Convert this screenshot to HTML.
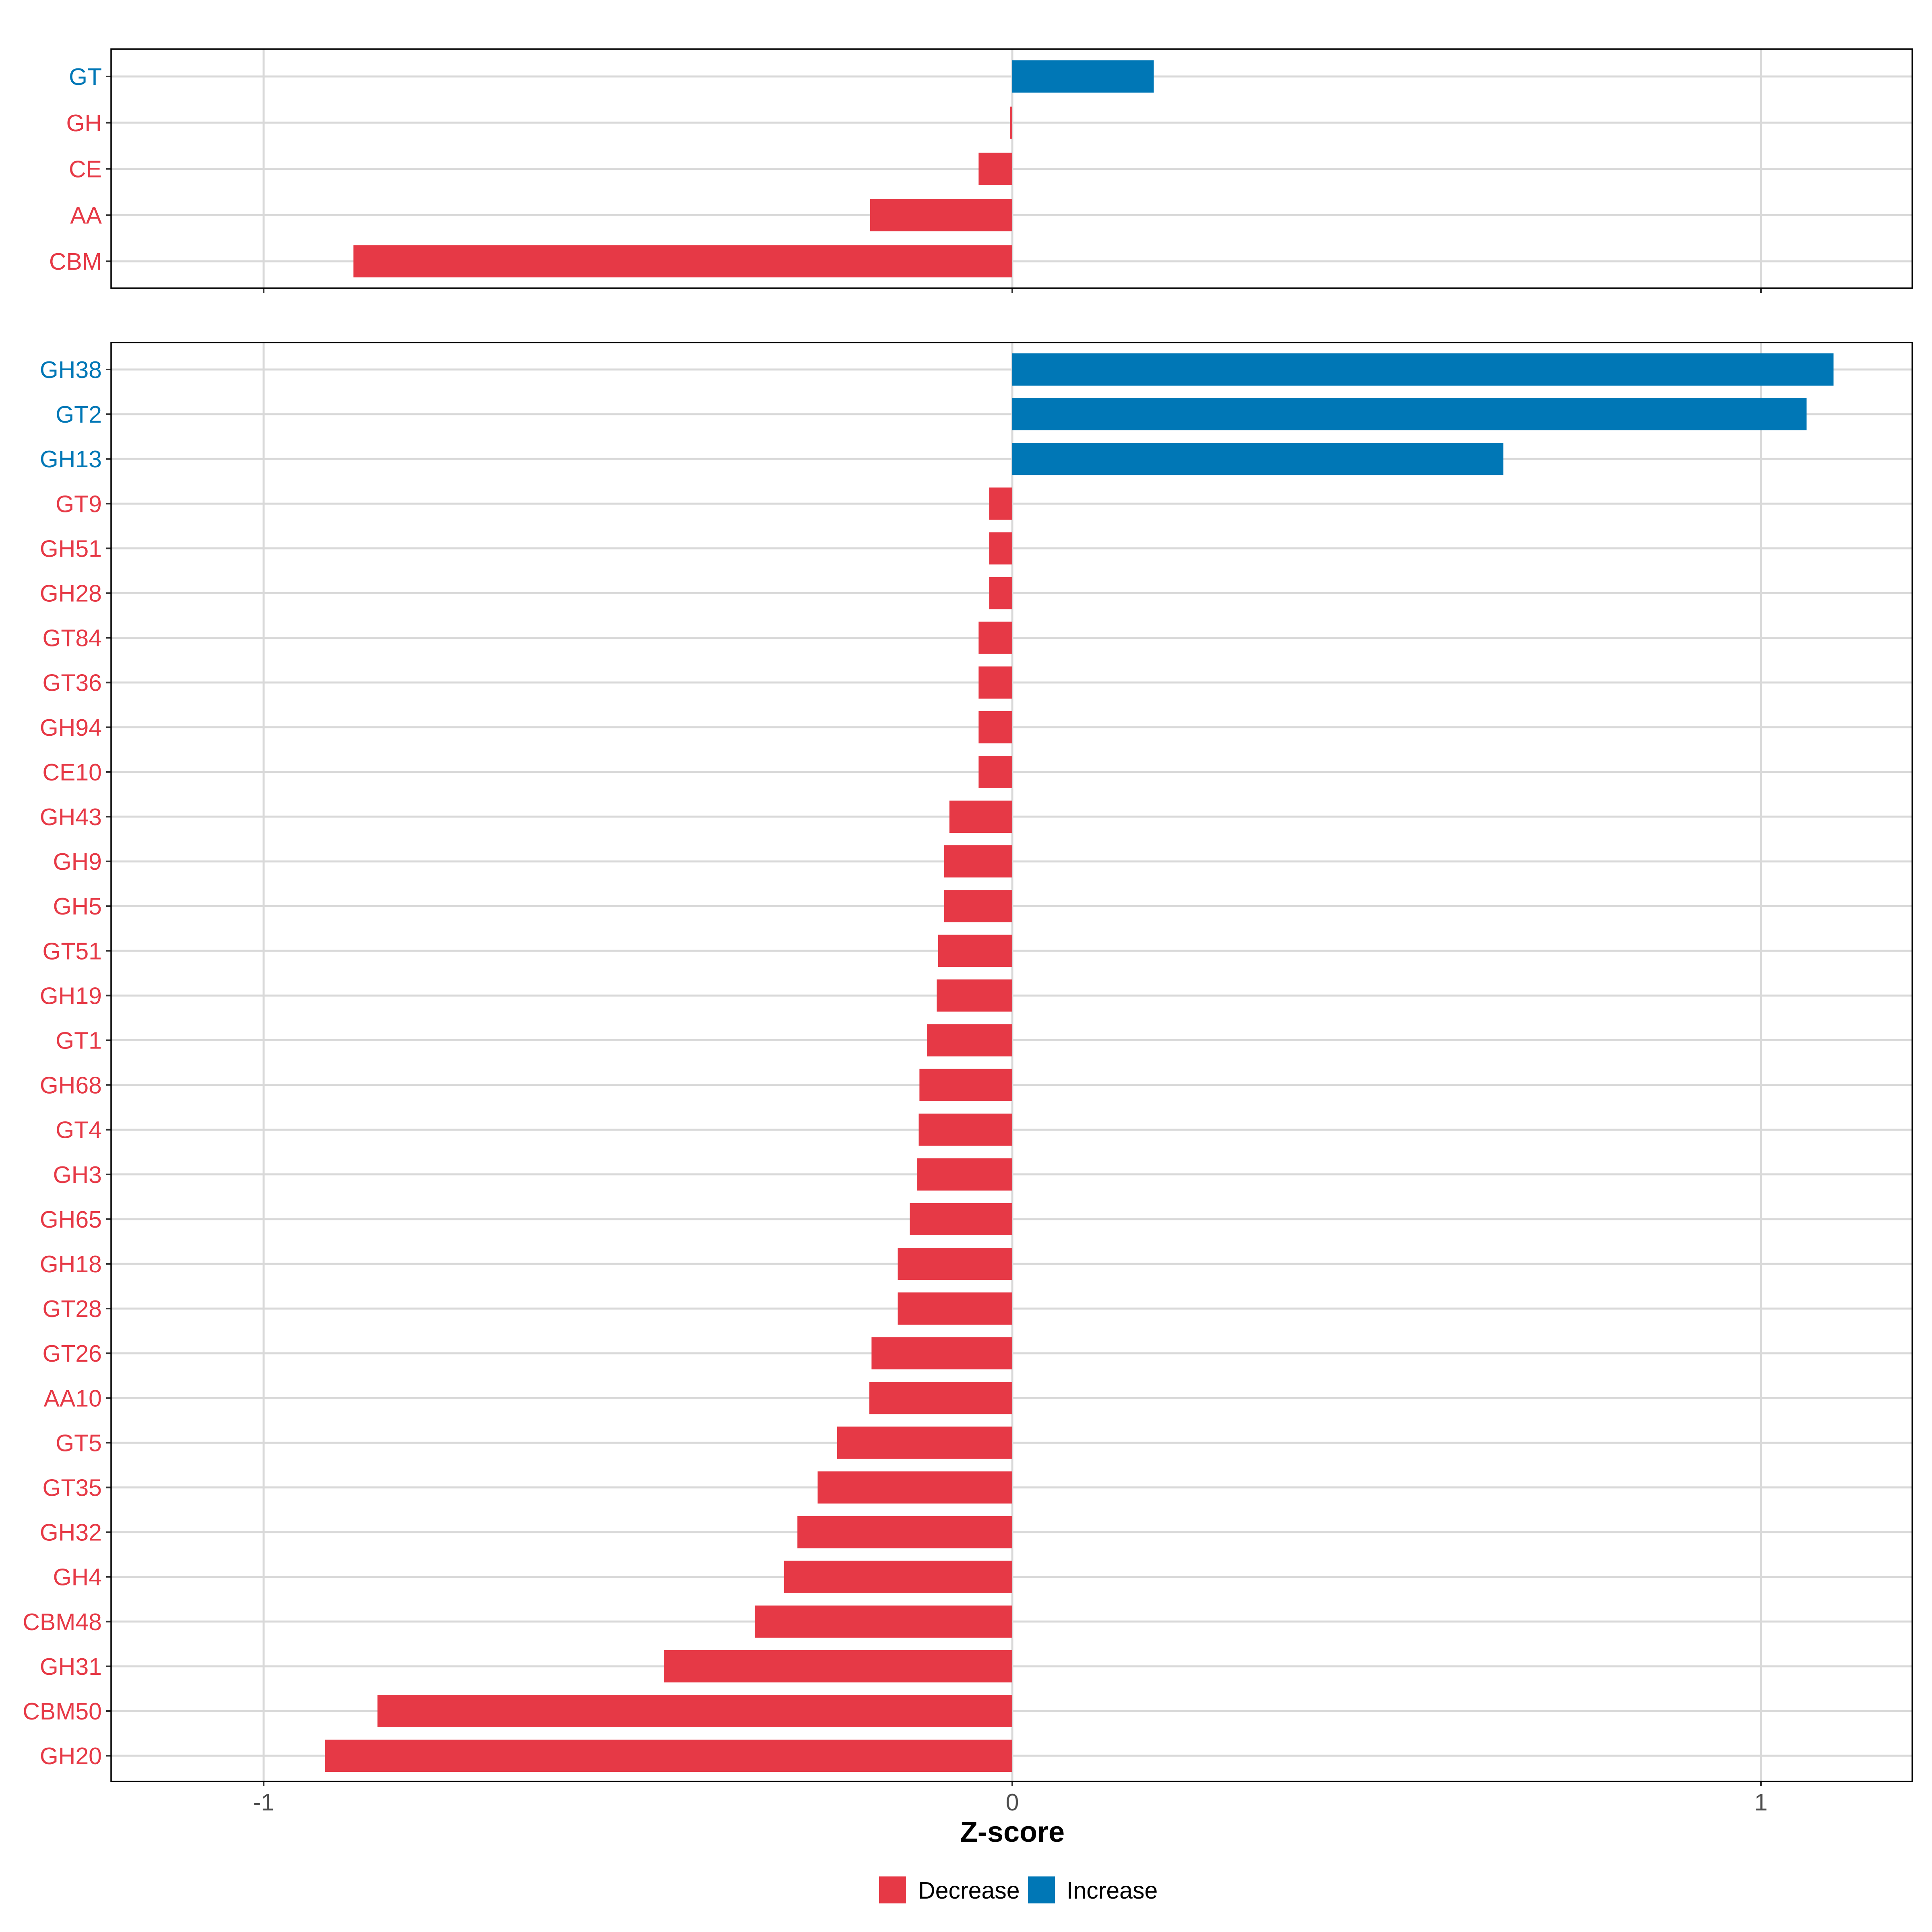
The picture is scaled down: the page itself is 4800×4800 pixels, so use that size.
<!DOCTYPE html>
<html><head><meta charset="utf-8"><style>
html,body{margin:0;padding:0;background:#fff}
svg{display:block}
text{font-family:"Liberation Sans",sans-serif}
</style></head><body>
<svg id="chart" width="4800" height="4800" viewBox="0 0 4800 4800" xmlns="http://www.w3.org/2000/svg"></svg>
<script>
const topCategories = ["GT","GH","CE","AA","CBM"];
const topValues = [0.189, -0.003, -0.045, -0.19, -0.88];
const bottomCategories = ["GH38","GT2","GH13","GT9","GH51","GH28","GT84","GT36","GH94","CE10","GH43","GH9","GH5","GT51","GH19","GT1","GH68","GT4","GH3","GH65","GH18","GT28","GT26","AA10","GT5","GT35","GH32","GH4","CBM48","GH31","CBM50","GH20"];
const bottomValues = [1.097, 1.061, 0.656, -0.031, -0.031, -0.031, -0.045, -0.045, -0.045, -0.045, -0.084, -0.091, -0.091, -0.099, -0.101, -0.114, -0.124, -0.125, -0.127, -0.137, -0.153, -0.153, -0.188, -0.191, -0.234, -0.26, -0.287, -0.305, -0.344, -0.465, -0.848, -0.918];
const xTicks = [-1, 0, 1];
const xTickLabels = ["-1", "0", "1"];

const RED = "#E63946", BLUE = "#0077B6";
const NS = "http://www.w3.org/2000/svg";
const svg = document.getElementById("chart");
const L = 276, R = 4751;
function xs(v){ return 2515 + v * 1860; }
function mk(tag, attrs, parent){
  const e = document.createElementNS(NS, tag);
  for (const k in attrs) e.setAttribute(k, attrs[k]);
  (parent || svg).appendChild(e);
  return e;
}
function panel(name, top, bottom, firstY, step, cats, vals){
  const g = mk("g", {});
  
  
  // gridlines
  xTicks.forEach(t => {
    const l = mk("line", {x1: xs(t), x2: xs(t), y1: top, y2: bottom, stroke: "#d9d9d9", "stroke-width": 5}, g);
    
    
  });
  cats.forEach((c, i) => {
    const y = firstY + i * step;
    const l = mk("line", {x1: L, x2: R, y1: y, y2: y, stroke: "#d9d9d9", "stroke-width": 5}, g);
    
    
  });
  cats.forEach((c, i) => {
    const y = firstY + i * step;
    const v = vals[i];
    const col = v >= 0 ? BLUE : RED;
    const x0 = Math.min(xs(0), xs(v)), w = Math.max(Math.abs(xs(v) - xs(0)), 2);
    const b = mk("rect", {x: x0, y: y - 40, width: w, height: 80, fill: col}, g);
    
    
    const tk = mk("line", {x1: 264, x2: L, y1: y, y2: y, stroke: "#333", "stroke-width": 4}, g);
    
    
    const t = mk("text", {x: 253, y: y + 21, "text-anchor": "end", "font-size": 59, fill: col}, g);
    t.textContent = c;
    
    
  });
  xTicks.forEach(t => {
    const l = mk("line", {x1: xs(t), x2: xs(t), y1: bottom, y2: bottom + 12, stroke: "#333", "stroke-width": 4}, g);
    
    
  });
  const f = mk("rect", {x: L, y: top, width: R - L, height: bottom - top, fill: "none", stroke: "#000", "stroke-width": 3.5}, g);
  
  
}
panel("top-panel", 122, 716, 190, 114.8, topCategories, topValues);
panel("bottom-panel", 851, 4426, 918, 111.1, bottomCategories, bottomValues);

xTicks.forEach((t, i) => {
  const e = mk("text", {x: xs(t), y: 4498, "text-anchor": "middle", "font-size": 59, fill: "#4d4d4d"});
  e.textContent = xTickLabels[i];
  
  
});
const title = mk("text", {x: xs(0), y: 4576, "text-anchor": "middle", "font-size": 72, "font-weight": "bold", fill: "#000"});
title.textContent = "Z-score";



const legend = mk("g", {});


const k1 = mk("rect", {x: 2184, y: 4662, width: 67, height: 67, fill: RED}, legend);


const t1 = mk("text", {x: 2281, y: 4717, "font-size": 59, fill: "#000"}, legend);
t1.textContent = "Decrease";


const k2 = mk("rect", {x: 2554, y: 4662, width: 67, height: 67, fill: BLUE}, legend);


const t2 = mk("text", {x: 2650, y: 4717, "font-size": 59, fill: "#000"}, legend);
t2.textContent = "Increase";


</script>
</body></html>
